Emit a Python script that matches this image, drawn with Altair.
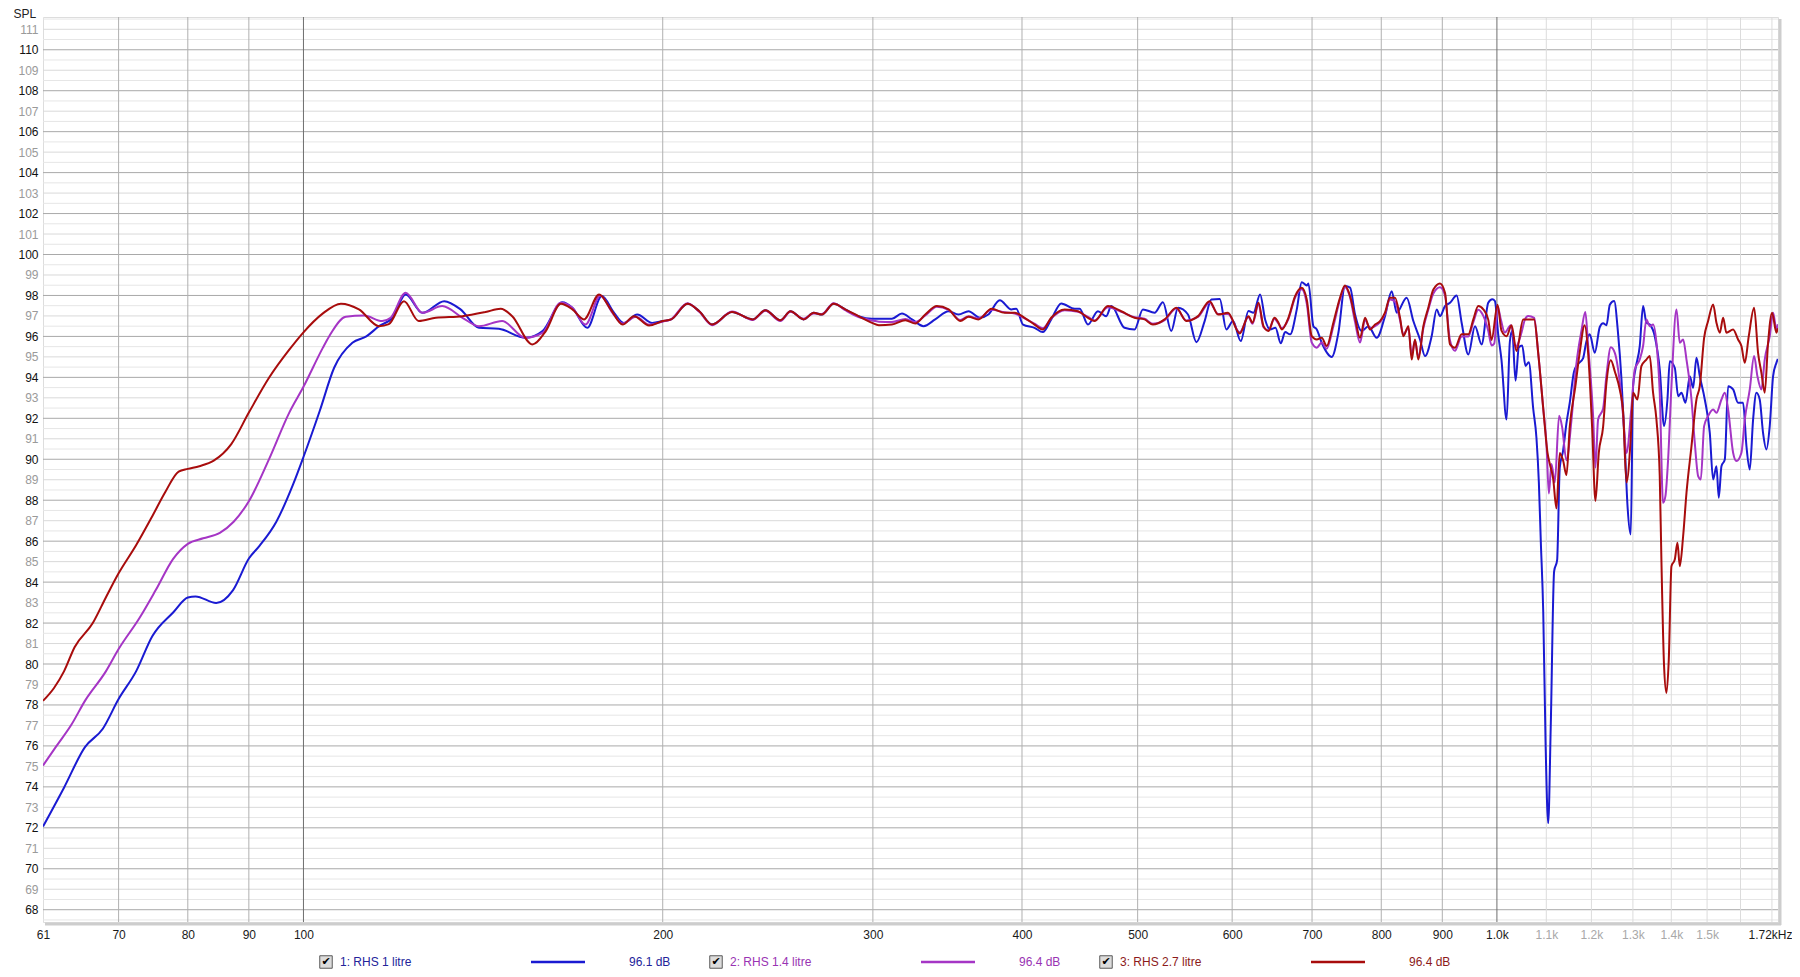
import altair as alt
import pandas as pd

# ---------------- data ----------------
freq_1 = [60.5, 63.0, 65.6, 67.9, 70.0, 72.4, 74.7, 77.8, 80.0, 81.2, 84.5, 87.3, 90.0, 91.9, 94.9, 98.0,
          100.0, 103.2, 106.1, 109.9, 112.9, 115.7, 118.7, 121.8, 125.8, 131.2, 135.4, 140.3, 145.8, 153.5,
          158.6, 164.8, 168.0, 172.9, 177.8, 182.1, 185.5, 190.4, 196.0, 200.0, 203.3, 209.8, 214.6, 220.0,
          228.6, 237.9, 243.8, 251.0, 255.9, 262.5, 267.6, 271.9, 278.1, 284.4, 291.8, 299.5, 303.5, 311.2,
          317.3, 323.5, 330.8, 338.3, 347.2, 353.9, 360.8, 368.9, 374.8, 383.2, 391.9, 395.6, 400.8, 409.8,
          416.4, 423.2, 431.5, 442.8, 447.1, 454.3, 463.1, 470.6, 475.2, 487.5, 497.0, 505.1, 516.6, 525.0,
          533.5, 540.5, 551.0, 560.0, 569.0, 576.4, 585.8, 593.3, 601.0, 610.0, 619.2, 625.2, 633.3, 639.4,
          645.6, 652.3, 659.0, 664.6, 671.0, 679.7, 686.2, 692.9, 695.1, 701.8, 706.4, 713.2, 727.1, 736.5,
          746.0, 753.3, 760.6, 770.5, 780.4, 793.0, 805.8, 816.3, 824.2, 840.2, 851.1, 862.1, 870.5, 881.7,
          890.3, 896.0, 904.7, 913.5, 925.2, 934.2, 946.3, 958.6, 970.9, 983.4, 991.2, 996.1, 1002.5, 1008.9,
          1018.8, 1025.3, 1029.9, 1036.6, 1043.2, 1050.0, 1056.7, 1063.5, 1072.5, 1079.3, 1084.3, 1088.4,
          1093.5, 1098.4, 1104.0, 1109.6, 1116.7, 1123.2, 1128.9, 1136.1, 1143.6, 1150.9, 1160.5, 1169.4,
          1180.8, 1188.3, 1196.2, 1207.8, 1219.6, 1227.4, 1235.4, 1243.4, 1253.8, 1263.5, 1271.6, 1279.8,
          1286.4, 1294.6, 1300.5, 1306.3, 1317.3, 1325.8, 1334.3, 1342.9, 1356.0, 1369.1, 1380.6, 1389.6,
          1395.9, 1409.4, 1418.6, 1427.7, 1438.8, 1450.9, 1460.2, 1469.6, 1479.1, 1493.4, 1507.9, 1517.6,
          1527.4, 1534.3, 1542.2, 1552.2, 1562.2, 1577.3, 1592.5, 1608.0, 1618.4, 1628.8, 1639.3, 1649.9,
          1660.4, 1671.1, 1681.9, 1692.8, 1703.8, 1714.7, 1719.5]
spl_1 = [72.06, 73.96, 75.94, 76.84, 78.29, 79.64, 81.36, 82.53, 83.25, 83.30, 82.98, 83.61, 85.15, 85.78, 86.95, 88.76,
         90.11, 92.37, 94.47, 95.69, 96.00, 96.50, 96.90, 98.05, 97.15, 97.72, 97.32, 96.42, 96.37, 95.93,
         96.26, 97.67, 97.40, 96.42, 97.97, 97.15, 96.66, 97.07, 96.66, 96.75, 96.83, 97.59, 97.23, 96.58,
         97.19, 96.83, 97.28, 96.79, 97.23, 96.83, 97.15, 97.07, 97.59, 97.32, 96.99, 96.86, 96.86, 96.86,
         97.12, 96.83, 96.50, 96.83, 97.23, 97.07, 97.23, 96.91, 97.07, 97.77, 97.32, 97.35, 96.58, 96.42,
         96.21, 96.83, 97.61, 97.35, 97.35, 96.58, 97.23, 96.99, 97.48, 96.42, 96.34, 97.32, 97.16, 97.67,
         96.26, 97.40, 97.07, 95.72, 96.75, 97.80, 97.83, 96.34, 96.75, 95.77, 97.24, 97.16, 98.05, 96.83,
         96.34, 96.42, 95.66, 96.21, 96.10, 97.32, 98.65, 98.49, 98.59, 96.50, 96.34, 95.69, 95.00, 96.18,
         98.46, 98.38, 97.07, 96.26, 96.50, 95.93, 96.99, 98.21, 97.16, 97.89, 96.75, 95.85, 95.04, 96.01,
         97.32, 96.99, 97.48, 97.64, 98.00, 96.67, 95.12, 96.50, 95.61, 97.64, 97.82, 97.73, 96.10, 94.84,
         91.94, 95.74, 96.28, 93.84, 95.47, 95.56, 94.56, 94.74, 92.48, 91.04, 88.87, 85.97,
         82.54, 76.21, 72.23, 77.11, 84.53, 85.07, 89.59, 90.41, 91.76, 92.76, 94.29, 94.65,
         94.93, 95.74, 96.10, 95.20, 96.46, 96.64, 96.55, 97.55, 97.73, 96.10, 93.93, 90.68,
         87.78, 86.33, 93.57, 94.39, 95.53, 97.48, 96.67, 96.58, 96.01, 94.39, 91.62, 92.92,
         94.79, 94.47, 93.08, 93.25, 92.76, 94.06, 93.49, 94.96, 94.06, 92.92, 91.29, 89.01,
         89.66, 88.12, 89.66, 89.99, 93.57, 93.41, 92.76, 92.76, 90.64, 89.50, 91.94, 93.25,
         92.92, 91.29, 90.48, 91.62, 94.06, 94.71, 94.90]

freq_2 = [60.5, 62.0, 63.9, 65.6, 68.3, 70.0, 72.9, 75.2, 77.8, 80.0, 82.4, 85.1, 87.4, 90.0, 93.6, 97.3,
          100.0, 103.8, 105.1, 108.5, 112.4, 116.4, 118.3, 121.8, 125.8, 130.7, 135.9, 140.3, 146.7, 153.5,
          158.6, 164.3, 168.0, 172.3, 177.3, 181.5, 185.1, 189.9, 194.8, 200.0, 203.3, 209.8, 214.6, 220.0,
          228.6, 237.9, 243.8, 251.0, 255.9, 262.5, 267.6, 271.9, 278.1, 284.4, 291.8, 299.5, 303.5, 311.2,
          319.4, 325.6, 331.9, 339.4, 347.2, 355.1, 360.8, 367.7, 377.2, 386.9, 394.4, 402.0, 409.8, 416.4,
          423.2, 434.3, 445.7, 454.3, 460.2, 472.1, 484.4, 497.0, 506.7, 514.9, 526.7, 538.7, 549.2, 561.8,
          574.5, 583.9, 595.2, 608.8, 619.2, 624.0, 631.3, 637.4, 643.5, 651.0, 656.1, 660.3, 668.8, 677.5,
          686.2, 692.9, 699.6, 706.4, 713.2, 720.1, 729.4, 738.8, 746.0, 753.3, 760.6, 767.9, 775.4, 782.9,
          790.5, 798.1, 805.8, 813.6, 821.6, 829.5, 834.8, 843.0, 848.4, 853.8, 859.3, 867.7, 876.0, 884.6,
          896.0, 904.7, 913.5, 922.2, 934.2, 946.3, 955.5, 964.7, 974.1, 983.4, 989.7, 994.8, 1001.3, 1007.6,
          1015.5, 1027.3, 1036.6, 1048.7, 1055.4, 1062.2, 1074.5, 1082.9, 1093.5, 1100.5, 1105.4, 1111.0,
          1118.2, 1127.5, 1134.0, 1143.6, 1154.8, 1165.7, 1177.2, 1186.0, 1192.4, 1203.9, 1209.4, 1215.6,
          1227.4, 1235.4, 1245.8, 1255.4, 1267.6, 1275.7, 1283.9, 1296.2, 1304.7, 1317.3, 1325.8, 1334.3,
          1342.9, 1351.6, 1360.4, 1369.1, 1377.9, 1384.2, 1391.4, 1400.4, 1414.0, 1423.1, 1432.3, 1441.6,
          1455.6, 1464.9, 1474.4, 1482.0, 1491.5, 1503.0, 1517.6, 1527.4, 1542.2, 1552.2, 1562.2, 1577.3,
          1587.4, 1602.8, 1613.2, 1628.8, 1642.5, 1653.0, 1665.8, 1676.5, 1692.8, 1703.8, 1714.7, 1719.5]
spl_2 = [75.04, 75.94, 77.03, 78.20, 79.64, 80.73, 82.26, 83.61, 85.15, 85.87, 86.14, 86.41, 86.95, 87.95, 90.02, 92.28,
         93.54, 95.44, 96.01, 96.96, 97.02, 96.75, 96.91, 98.13, 97.15, 97.48, 96.91, 96.50, 96.75, 95.93,
         96.17, 97.64, 97.40, 96.58, 98.00, 97.15, 96.63, 96.96, 96.58, 96.72, 96.85, 97.62, 97.20, 96.55,
         97.22, 96.80, 97.25, 96.75, 97.20, 96.86, 97.12, 97.10, 97.62, 97.28, 96.95, 96.78, 96.72, 96.70,
         96.85, 96.70, 97.02, 97.45, 97.30, 96.80, 96.98, 96.88, 97.30, 97.18, 97.12, 96.88, 96.62, 96.40,
         96.88, 97.28, 97.20, 96.95, 96.78, 97.42, 97.20, 96.94, 96.86, 96.62, 96.80, 97.36, 96.78, 96.95,
         97.66, 97.10, 97.10, 96.20, 96.95, 96.62, 97.55, 96.45, 96.30, 96.85, 96.62, 96.40, 96.85, 97.90,
         98.30, 97.60, 95.70, 95.45, 95.70, 95.40, 96.50, 97.80, 98.40, 97.90, 96.70, 95.70, 96.80, 96.40,
         96.50, 96.70, 97.10, 97.80, 97.70, 96.80, 96.10, 96.40, 95.10, 95.80, 95.00, 96.40, 97.30, 98.10,
         98.40, 98.00, 95.80, 95.30, 96.00, 96.00, 96.70, 97.30, 97.00, 96.28, 95.56, 95.65, 97.46, 96.82,
         96.19, 96.55, 95.47, 96.19, 96.82, 97.00, 96.91, 95.20, 92.48, 90.68, 88.33, 89.77,
         88.87, 92.12, 91.58, 89.95, 91.94, 94.65, 96.28, 97.19, 95.56, 92.12, 89.59, 91.94,
         92.48, 94.11, 95.47, 95.20, 93.75, 92.12, 90.31, 92.50, 94.39, 94.87, 95.53, 96.83,
         96.50, 96.58, 95.69, 93.25, 87.87, 88.20, 89.99, 93.57, 97.32, 95.69, 95.85, 94.87,
         92.92, 90.80, 89.18, 89.01, 91.62, 92.11, 92.43, 92.27, 92.92, 93.25, 92.43, 90.32,
         89.91, 90.32, 91.94, 93.41, 95.04, 94.06, 93.41, 94.87, 96.01, 97.16, 96.34, 96.60]

freq_3 = [60.5, 61.8, 63.0, 64.3, 66.6, 68.3, 70.0, 72.4, 74.7, 76.6, 78.6, 80.0, 81.8, 84.1, 87.0, 90.0,
          93.6, 97.3, 100.0, 103.7, 107.5, 111.3, 115.7, 117.9, 121.4, 124.9, 129.1, 135.9, 142.1, 146.3,
          149.6, 155.5, 159.6, 164.3, 168.0, 171.8, 176.9, 180.9, 185.1, 189.2, 194.8, 200.0, 203.3, 209.8,
          214.6, 220.0, 228.6, 237.9, 243.8, 251.0, 255.9, 262.5, 267.6, 271.9, 278.1, 284.4, 291.8, 299.5,
          303.5, 311.2, 319.4, 325.6, 331.9, 339.4, 347.2, 355.1, 360.8, 367.7, 377.2, 386.9, 394.4, 402.0,
          409.8, 416.4, 423.2, 434.3, 445.7, 454.3, 460.2, 472.1, 484.4, 497.0, 506.7, 514.9, 526.7, 538.7,
          549.2, 561.8, 574.5, 583.9, 595.2, 608.8, 619.2, 624.0, 631.3, 637.4, 643.5, 651.0, 656.1, 660.3,
          668.8, 677.5, 686.2, 692.9, 699.6, 706.4, 713.2, 720.1, 729.4, 738.8, 746.0, 753.3, 760.6, 767.9,
          775.4, 782.9, 790.5, 798.1, 805.8, 813.6, 821.6, 829.5, 834.8, 843.0, 848.4, 853.8, 859.3, 867.7,
          876.0, 884.6, 896.0, 904.7, 913.5, 922.2, 934.2, 946.3, 955.5, 964.7, 974.1, 983.4, 989.7, 1001.3,
          1008.9, 1018.8, 1028.6, 1038.5, 1052.0, 1062.2, 1074.5, 1082.9, 1093.5, 1102.6, 1107.5, 1114.6,
          1121.8, 1128.9, 1136.1, 1143.6, 1150.9, 1163.5, 1173.1, 1184.5, 1192.4, 1201.6, 1209.4, 1217.2,
          1227.4, 1235.4, 1245.8, 1255.4, 1267.6, 1275.7, 1283.9, 1294.6, 1300.5, 1311.4, 1321.5, 1334.3,
          1342.9, 1351.6, 1360.4, 1369.1, 1373.5, 1380.6, 1386.9, 1393.2, 1400.4, 1409.4, 1416.7, 1423.1,
          1432.3, 1441.6, 1455.6, 1469.6, 1479.1, 1491.5, 1503.0, 1517.6, 1527.4, 1537.3, 1547.2, 1557.1,
          1577.3, 1592.5, 1602.8, 1613.2, 1625.7, 1642.5, 1655.1, 1665.8, 1676.5, 1687.4, 1700.5, 1714.7,
          1719.5]
spl_3 = [78.20, 78.83, 79.64, 80.82, 82.00, 83.25, 84.43, 85.80, 87.22, 88.40, 89.40, 89.53, 89.66, 89.93, 90.74, 92.28,
         93.99, 95.35, 96.20, 97.10, 97.60, 97.32, 96.50, 96.60, 97.72, 96.75, 96.91, 96.99, 97.19, 97.35,
         96.99, 95.61, 96.26, 97.59, 97.32, 96.83, 98.05, 97.32, 96.58, 96.99, 96.53, 96.75, 96.83, 97.59,
         97.23, 96.58, 97.19, 96.83, 97.28, 96.79, 97.23, 96.83, 97.15, 97.07, 97.59, 97.32, 96.99, 96.66,
         96.55, 96.58, 96.79, 96.63, 97.07, 97.48, 97.32, 96.75, 96.96, 96.83, 97.35, 97.15, 97.15, 96.91,
         96.58, 96.34, 96.91, 97.32, 97.23, 96.91, 96.75, 97.48, 97.23, 96.91, 96.83, 96.58, 96.83, 97.40,
         96.75, 96.99, 97.72, 97.07, 97.15, 96.14, 96.99, 96.67, 97.64, 96.50, 96.26, 96.91, 96.67, 96.34,
         96.91, 97.97, 98.38, 97.80, 96.01, 95.85, 95.93, 95.53, 96.67, 97.89, 98.49, 97.97, 96.91, 95.93,
         96.91, 96.34, 96.58, 96.75, 97.16, 97.89, 97.89, 96.91, 96.01, 96.50, 94.87, 95.85, 94.87, 96.50,
         97.40, 98.29, 98.59, 98.13, 95.61, 95.45, 96.10, 96.10, 96.83, 97.48, 97.32, 96.82, 95.83, 97.55,
         96.28, 96.01, 96.55, 95.29, 96.82, 96.82, 96.82, 95.20, 92.48, 90.31, 89.77, 89.05,
         87.60, 90.31, 89.95, 89.23, 91.58, 93.57, 95.20, 96.55, 95.20, 91.58, 87.96, 90.31,
         91.58, 93.75, 94.84, 94.29, 93.39, 92.30, 88.87, 91.04, 93.25, 92.92, 94.55, 94.87,
         95.04, 93.25, 91.94, 89.18, 85.10, 79.89, 78.59, 80.22, 84.78, 85.10, 85.92, 84.78,
         86.24, 88.36, 90.64, 92.92, 93.57, 95.93, 96.75, 97.56, 96.67, 96.18, 96.91, 96.18,
         96.34, 95.85, 95.53, 94.71, 96.01, 97.40, 95.20, 94.22, 93.25, 95.69, 97.16, 96.18,
         96.40]

series_names = ["1: RHS 1 litre", "2: RHS 1.4 litre", "3: RHS 2.7 litre"]
series_levels = ["96.1 dB", "96.4 dB", "96.4 dB"]
line_colors = ["#1a1ad2", "#a535c5", "#a80c0c"]
text_colors = ["#23239a", "#9933b3", "#8c1a1a"]

# axis / grid values
y_label_values = list(range(68, 112))
grid_db_even = list(range(68, 111, 2))
grid_db_odd = list(range(69, 112, 2))
grid_db_half = [v + 0.5 for v in range(67, 112)]
grid_hz_dark = [100, 1000]
grid_hz_mid = [70, 80, 90, 200, 300, 400, 500, 600, 700, 800, 900]
grid_hz_light = [1100, 1200, 1300, 1400, 1500, 1600, 1700]
x_label_values = [60.5, 70, 80, 90, 100, 200, 300, 400, 500, 600, 700, 800, 900,
                  1000, 1100, 1200, 1300, 1400, 1500, 1720]

# ---------------- chart ----------------
W, H = 1735, 905
FONT = "Liberation Sans"

xscale = alt.Scale(type="log", domain=[60.5, 1720], nice=False)
yscale = alt.Scale(domain=[67.4, 111.6], nice=False, zero=False)

xax = alt.Axis(
    values=x_label_values, grid=False, ticks=False, domain=False, title=None,
    labelExpr=("datum.value < 61 ? '61' : (datum.value > 1710 ? '1.72kHz' : "
               "(datum.value >= 1000 ? format(datum.value / 1000, '.1f') + 'k' : format(datum.value, 'd')))"),
    labelColor={"condition": {"test": "datum.value > 1050 && datum.value < 1600", "value": "#a8a8a8"},
                "value": "#1a1a1a"},
    labelOffset={"condition": {"test": "datum.value > 1710", "value": -8}, "value": 0},
    labelFlush=False, labelOverlap=False, labelBound=False,
    labelPadding=7, labelFontSize=12, labelFont=FONT,
)
yax = alt.Axis(
    values=y_label_values, grid=False, ticks=False, domain=False,
    title="SPL", titleAngle=0, titleAlign="left", titleBaseline="top",
    titleX=-30, titleY=-9, titleFontSize=12, titleFontWeight="normal",
    titleColor="#222222", titleFont=FONT,
    labelColor={"condition": {"test": "datum.value % 2 === 0", "value": "#111111"},
                "value": "#9a9a9a"},
    labelPadding=5, labelFontSize=12, labelFont=FONT, labelOverlap=False,
)


def hgrid(values, color):
    return alt.Chart(pd.DataFrame({"v": values})).mark_rule(color=color, strokeWidth=1).encode(
        y=alt.Y("v:Q", scale=yscale, axis=yax))


def vgrid(values, color):
    return alt.Chart(pd.DataFrame({"v": values})).mark_rule(color=color, strokeWidth=1).encode(
        x=alt.X("v:Q", scale=xscale, axis=xax))


layers = [
    hgrid(grid_db_half, "#e6e6e6"),
    hgrid(grid_db_odd, "#d9d9d9"),
    hgrid(grid_db_even, "#a9a9a9"),
    vgrid(grid_hz_light, "#dcdcdc"),
    vgrid(grid_hz_mid, "#b0b0b0"),
    vgrid(grid_hz_dark, "#6e6e6e"),
]

for fr, sp, col in [(freq_1, spl_1, line_colors[0]), (freq_2, spl_2, line_colors[1]),
                    (freq_3, spl_3, line_colors[2])]:
    df = pd.DataFrame({"f": fr, "spl": sp})
    layers.append(
        alt.Chart(df).mark_line(color=col, strokeWidth=2, interpolate="monotone", clip=True).encode(
            x=alt.X("f:Q", scale=xscale, axis=xax),
            y=alt.Y("spl:Q", scale=yscale, axis=yax),
            order="f:Q",
        )
    )

one = pd.DataFrame({"k": [0]})
# frame shadow on right and bottom
layers.append(alt.Chart(one).mark_rule(color="#cdcdcd", strokeWidth=3).encode(
    x=alt.value(W + 2), y=alt.value(2), y2=alt.value(H + 3)))
layers.append(alt.Chart(one).mark_rule(color="#cdcdcd", strokeWidth=3).encode(
    x=alt.value(2), x2=alt.value(W + 3), y=alt.value(H + 2)))

# legend row under the plot
LY = 945
for i in range(3):
    off = 390 * i
    item = pd.DataFrame({"name": [series_names[i]], "level": [series_levels[i]]})
    layers.append(alt.Chart(item).mark_square(size=156, filled=True, fill="#dcdcdc", stroke="#5a5a5a",
                                               strokeWidth=1, opacity=1).encode(
        x=alt.value(283 + off), y=alt.value(LY)))
    layers.append(alt.Chart(item).mark_text(text="\u2714", fontSize=11, color="#000000",
                                             font="DejaVu Sans", baseline="middle").encode(
        x=alt.value(283 + off), y=alt.value(LY)))
    layers.append(alt.Chart(item).mark_text(align="left", baseline="middle", fontSize=12, font=FONT,
                                             color=text_colors[i]).encode(
        x=alt.value(297 + off), y=alt.value(LY), text="name:N"))
    layers.append(alt.Chart(item).mark_rule(color=line_colors[i], strokeWidth=2.5).encode(
        x=alt.value(488 + off), x2=alt.value(542 + off), y=alt.value(LY)))
    layers.append(alt.Chart(item).mark_text(align="left", baseline="middle", fontSize=12, font=FONT,
                                             color=text_colors[i]).encode(
        x=alt.value(586 + off), y=alt.value(LY), text="level:N"))

chart = alt.layer(*layers).properties(
    width=W, height=H,
    padding={"left": 35, "top": 9, "right": 14, "bottom": 49},
    autosize=alt.AutoSizeParams(type="none"),
    background="#ffffff",
).configure_view(stroke="#8f8f8f", strokeWidth=1.5).configure(font=FONT)

chart.save("out.html", embed_options={"renderer": "svg", "actions": False})
